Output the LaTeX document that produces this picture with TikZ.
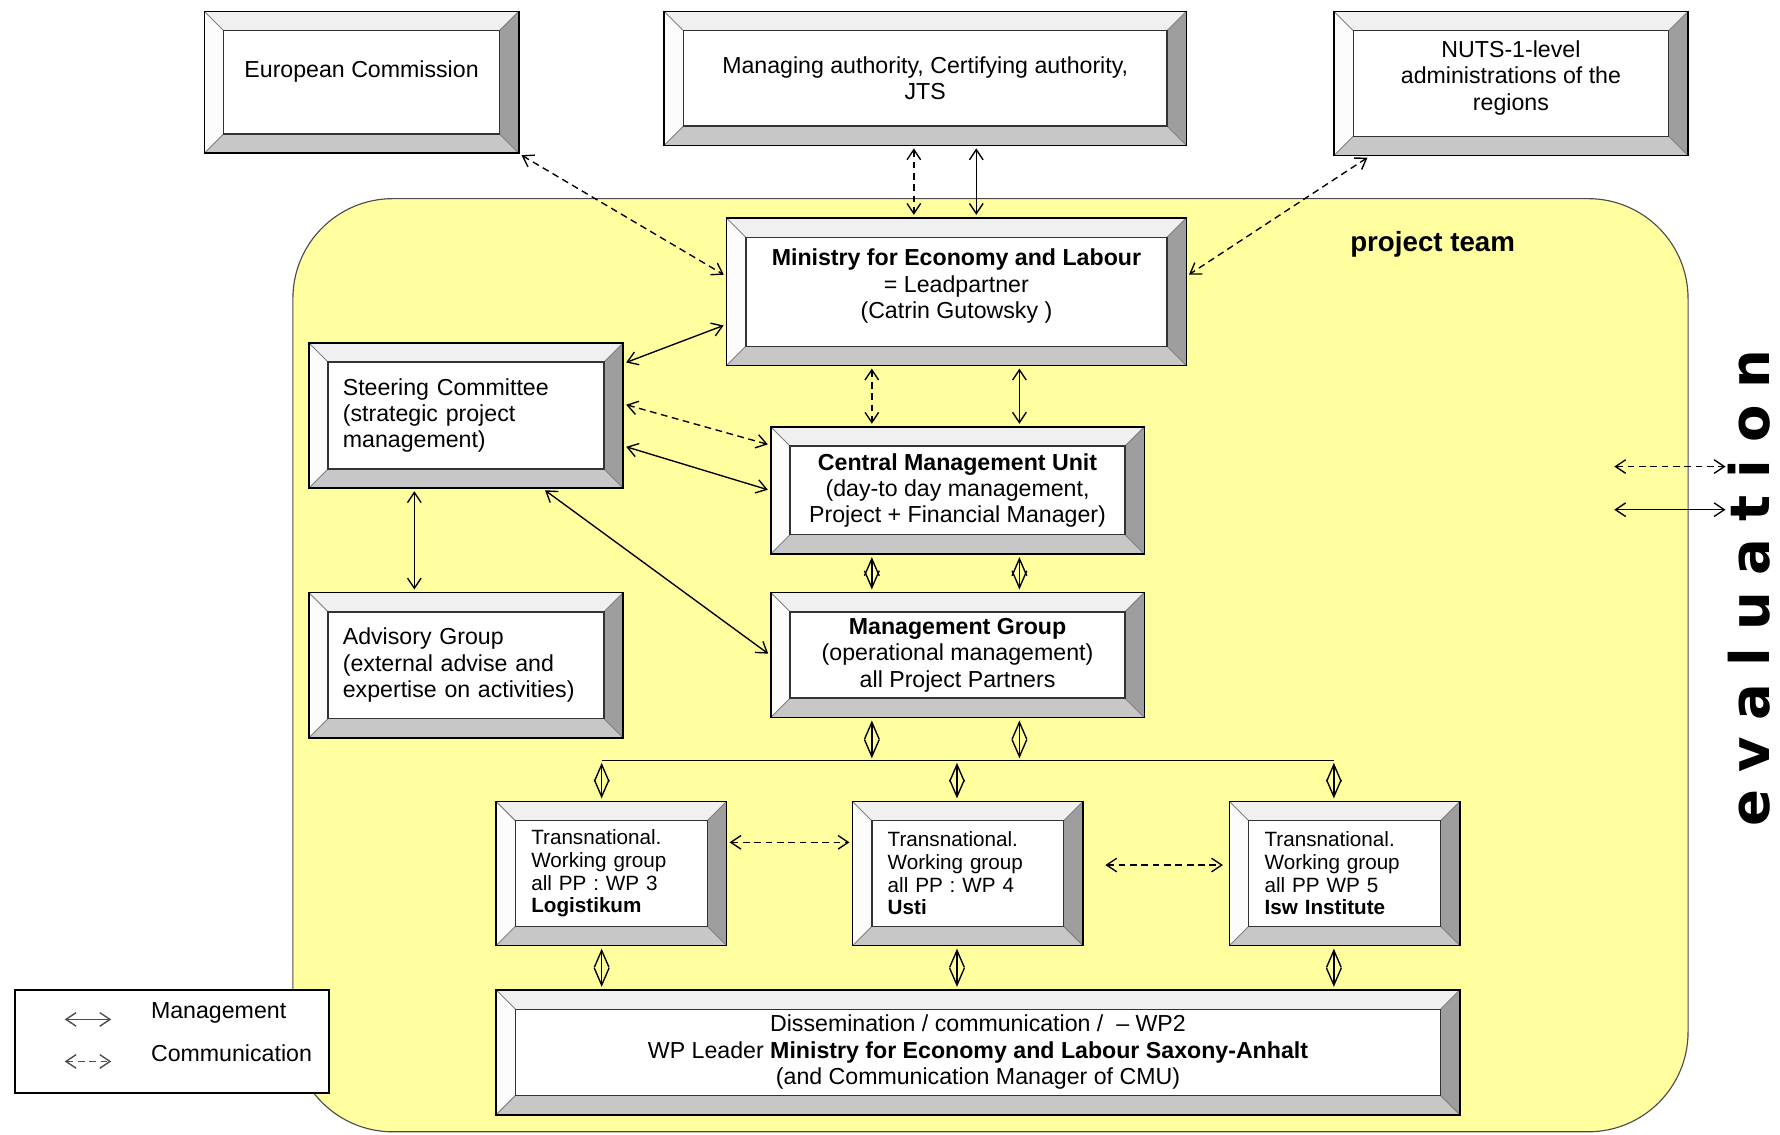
\documentclass[tikz,border=0pt]{standalone}
\usepackage{fontspec}
\setmainfont{Liberation Sans}
\newfontfamily\evalfont{DejaVu Sans}[LetterSpace=31]
\usepackage{tikz}
\usetikzlibrary{calc,arrows.meta,positioning}
\definecolor{teamyellow}{RGB}{255,255,160}
\definecolor{bevtop}{gray}{0.94}
\definecolor{bevleft}{gray}{0.99}
\definecolor{bevright}{gray}{0.62}
\definecolor{bevbottom}{gray}{0.78}
\newcommand{\bevw}{8.5pt}
\newcommand{\ppb}{path picture bounding box}

\begin{document}
\begin{tikzpicture}[x=0.5pt,y=-0.5pt]
    \tikzset{
        bevel/.style={draw=black, line width=0.7pt, fill=white, inner sep=0pt,
            font=\fontsize{10.2}{11.6}\selectfont,
            path picture={
                \fill[bevtop] (\ppb.north west) -- (\ppb.north east) -- ([shift={(-\bevw,-\bevw)}]\ppb.north east) -- ([shift={(\bevw,-\bevw)}]\ppb.north west) -- cycle;
                \fill[bevleft] (\ppb.north west) -- (\ppb.south west) -- ([shift={(\bevw,\bevw)}]\ppb.south west) -- ([shift={(\bevw,-\bevw)}]\ppb.north west) -- cycle;
                \fill[bevright] (\ppb.north east) -- (\ppb.south east) -- ([shift={(-\bevw,\bevw)}]\ppb.south east) -- ([shift={(-\bevw,-\bevw)}]\ppb.north east) -- cycle;
                \fill[bevbottom] (\ppb.south west) -- (\ppb.south east) -- ([shift={(-\bevw,\bevw)}]\ppb.south east) -- ([shift={(\bevw,\bevw)}]\ppb.south west) -- cycle;
                \draw[gray, line width=0.4pt] (\ppb.north west) -- ([shift={(\bevw,-\bevw)}]\ppb.north west)
                    (\ppb.north east) -- ([shift={(-\bevw,-\bevw)}]\ppb.north east)
                    (\ppb.south west) -- ([shift={(\bevw,\bevw)}]\ppb.south west)
                    (\ppb.south east) -- ([shift={(-\bevw,\bevw)}]\ppb.south east);
                \draw[black!80, line width=0.6pt] ([shift={(\bevw,-\bevw)}]\ppb.north west) rectangle ([shift={(-\bevw,\bevw)}]\ppb.south east);
            }},
        hbox/.style={bevel, align=center},
        lbox/.style={bevel, align=left, inner xsep=15pt, text width=108.5pt, minimum height=64pt},
        wpbox/.style={bevel, align=left, inner xsep=15.5pt, text width=70.5pt, minimum height=63.5pt,
            font=\fontsize{9.1}{10}\selectfont},
        mgmt/.style={<->, line width=0.6pt, shorten <=1pt, shorten >=1pt,
            >={Straight Barb[length=4.5pt,width=6pt]}},
        comm/.style={mgmt, dash pattern=on 3pt off 2pt},
        diam/.style={<->, line width=0.6pt, shorten <=1pt, shorten >=1pt,
            >={Straight Barb[length=7.5pt,width=6.5pt]}},
    }
    \useasboundingbox (0,0) rectangle (1568,999);

    \node[draw=black!70, line width=0.5pt, fill=teamyellow, rounded corners=44pt,
        minimum width=614.5pt, minimum height=411pt] (team) at (872.5,586) {};
    \node[font=\bfseries\fontsize{12.2}{14}\selectfont] (teamlabel) at (1262,215) {project team};

    \node[hbox, minimum width=138.5pt, minimum height=62.5pt, text depth=12pt] (ec) at (318.5,72.5) {European Commission};
    \node[hbox, minimum width=230pt, minimum height=59pt] (ma) at (815,69) {Managing authority, Certifying authority,\\JTS};
    \node[hbox, minimum width=156pt, minimum height=63.5pt, text depth=7pt] (nuts) at (1331,73.5) {NUTS-1-level\\administrations of the\\regions};

    \node[hbox, minimum width=202.5pt, minimum height=65pt, text depth=7pt] (lp) at (842.5,257)
        {\textbf{Ministry for Economy and Labour}\\= Leadpartner\\(Catrin Gutowsky )};
    \node[lbox] (sc) at (410.5,366) {Steering Committee\\(strategic project\\management)};
    \node[hbox, minimum width=164.5pt, minimum height=56pt] (cmu) at (843.5,432)
        {\textbf{Central Management Unit}\\(day-to day management,\\Project + Financial Manager)};
    \node[lbox] (ag) at (410.5,586) {Advisory Group\\(external advise and\\expertise on activities)};
    \node[hbox, minimum width=164.5pt, minimum height=55pt] (mg) at (843.5,577)
        {\textbf{Management Group}\\(operational management)\\all Project Partners};

    \node[wpbox] (wp3) at (538.5,769.5) {Transnational.\\Working group\\all PP : WP 3\\\textbf{Logistikum}};
    \node[wpbox] (wp4) at (852.5,769.5) {Transnational.\\Working group\\all PP : WP 4\\\textbf{Usti}};
    \node[wpbox] (wp5) at (1184.5,769.5) {Transnational.\\Working group\\all PP WP 5\\\textbf{Isw Institute}};
    \node[hbox, minimum width=424.5pt, minimum height=55pt] (dc) at (861.5,927)
        {Dissemination / communication / \ -- WP2\\WP Leader \textbf{Ministry for Economy and Labour Saxony-Anhalt}\\(and Communication Manager of CMU)};

    \node[draw=black, line width=0.7pt, fill=white, minimum width=138.5pt, minimum height=45.5pt] (legend) at (151.5,917.5) {};
    \node[anchor=west, font=\fontsize{10.2}{11.6}\selectfont] (lgman) at (126,892) {Management};
    \node[anchor=west, font=\fontsize{10.2}{11.6}\selectfont] (lgcom) at (126,928) {Communication};

    \node[rotate=90, font=\evalfont\bfseries\fontsize{24}{27}\selectfont] (eval) at (1541,518) {evaluation};

    \coordinate (colA) at (768,0);
    \coordinate (colB) at (898,0);
    \coordinate (colM1) at (805,0);
    \coordinate (colM2) at (860,0);
    \coordinate (colS) at (365,0);
    \coordinate (busL) at (530,670);
    \coordinate (busM) at (843,670);
    \coordinate (busR) at (1175,670);
    \coordinate (ev1) at (1420,411);
    \coordinate (ev2) at (1522,411);
    \coordinate (ev3) at (1420,449);
    \coordinate (ev4) at (1522,449);
    \coordinate (lm1) at (55,898);
    \coordinate (lm2) at (100,898);
    \coordinate (lc1) at (55,935);
    \coordinate (lc2) at (100,935);

    \draw[comm] (ec.south east) -- ([yshift=7pt]lp.west);
    \draw[comm] (ma.south -| colM1) -- (lp.north -| colM1);
    \draw[mgmt] (ma.south -| colM2) -- (lp.north -| colM2);
    \draw[comm] ([xshift=16pt]nuts.south west) -- ([yshift=7pt]lp.east);
    \draw[mgmt] ([yshift=23pt]sc.east) -- ([yshift=-14.5pt]lp.west);
    \draw[comm] (lp.south -| colA) -- (cmu.north -| colA);
    \draw[mgmt] (lp.south -| colB) -- (cmu.north -| colB);
    \draw[comm] ([yshift=5pt]sc.east) -- ([yshift=20pt]cmu.west);
    \draw[mgmt] ([yshift=-13.5pt]sc.east) -- (cmu.west);
    \draw[mgmt] (sc.south -| colS) -- (ag.north -| colS);
    \draw[mgmt] ([xshift=34pt]sc.south) -- (mg.west);
    \draw[diam] (cmu.south -| colA) -- (mg.north -| colA);
    \draw[diam] (cmu.south -| colB) -- (mg.north -| colB);
    \draw[diam] (mg.south -| colA) -- (busL -| colA);
    \draw[diam] (mg.south -| colB) -- (busL -| colB);
    \draw[line width=0.7pt] (busL) -- (busR);
    \draw[diam] (busL) -- (busL |- wp3.north);
    \draw[diam] (busM) -- (busM |- wp4.north);
    \draw[diam] (busR) -- (busR |- wp5.north);
    \draw[comm] ([yshift=13.75pt]wp3.east) -- ([yshift=13.75pt]wp4.west);
    \draw[comm, shorten <=9.5pt, shorten >=2.5pt] ([yshift=3.75pt]wp4.east) -- ([yshift=3.75pt]wp5.west);
    \draw[diam] (busL |- wp3.south) -- (busL |- dc.north);
    \draw[diam] (busM |- wp4.south) -- (busM |- dc.north);
    \draw[diam] (busR |- wp5.south) -- (busR |- dc.north);
    \draw[comm] (ev1) -- (ev2);
    \draw[mgmt] (ev3) -- (ev4);
    \draw[mgmt, gray!60!black] (lm1) -- (lm2);
    \draw[comm, gray!60!black] (lc1) -- (lc2);
\end{tikzpicture}
\end{document}
